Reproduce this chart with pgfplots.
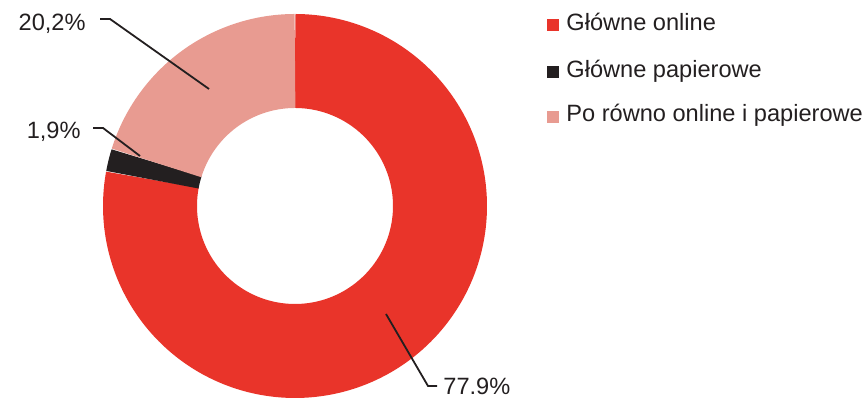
\documentclass[border=0pt]{standalone}
\usepackage{fontspec}
\setmainfont{Liberation Sans}
\usepackage{pgfplots}
\pgfplotsset{compat=1.18}
\definecolor{cRed}{HTML}{E9342A}
\definecolor{cBlack}{HTML}{231F20}
\definecolor{cPink}{HTML}{E89B91}
\begin{document}
\begin{tikzpicture}
% data (percent)
\pgfmathsetmacro{\pA}{77.9}% Glownie online
\pgfmathsetmacro{\pB}{1.9}% Glownie papierowe
\pgfmathsetmacro{\pC}{20.2}% Po rowno
\pgfmathsetmacro{\aStart}{90}
\pgfmathsetmacro{\aA}{\aStart-3.6*\pA}
\pgfmathsetmacro{\aB}{\aA-3.6*\pB}
\pgfmathsetmacro{\aC}{\aB-3.6*\pC}
\tikzset{lbl/.style={inner sep=0pt, text=cBlack, font=\fontsize{11.8}{14}\selectfont}}
\begin{axis}[scale only axis, width=432pt, height=199.5pt,
  xmin=0, xmax=864, ymin=0, ymax=399, hide axis, clip=false]
\coordinate (SW) at (axis cs:0,0);
\coordinate (NE) at (axis cs:864,399);
\addplot[cRed, line width=47pt, domain=\aA:\aStart, samples=240, variable=\t]
  ({295+145*cos(\t)},{193+145*sin(\t)});
\addplot[cBlack, line width=47pt, domain=\aB:\aA, samples=10, variable=\t]
  ({295+145*cos(\t)},{193+145*sin(\t)});
\addplot[cPink, line width=47pt, domain=\aC:\aB, samples=80, variable=\t]
  ({295+145*cos(\t)},{193+145*sin(\t)});
% leader lines
\addplot[cBlack, line width=0.9pt] coordinates {(100,380) (110,380) (209,310)};
\addplot[cBlack, line width=0.9pt] coordinates {(93,271) (103,271) (140,243)};
\addplot[cBlack, line width=0.9pt] coordinates {(386,85) (428,13) (437,13)};
% labels
\node[lbl, anchor=base east] at (axis cs:86,368) {20,2\%};
\node[lbl, anchor=base east] at (axis cs:81,260) {1,9\%};
\node[lbl, anchor=base west] at (axis cs:443,4) {77.9\%};
% legend
\addplot[only marks, mark=square*, mark size=2.75pt, cRed] coordinates {(552.5,374)};
\addplot[only marks, mark=square*, mark size=2.75pt, cBlack] coordinates {(552.5,327)};
\addplot[only marks, mark=square*, mark size=2.75pt, cPink] coordinates {(552.5,282)};
\node[lbl, anchor=base west] at (axis cs:566,368) {Główne online};
\node[lbl, anchor=base west] at (axis cs:566,321) {Główne papierowe};
\node[lbl, anchor=base west] at (axis cs:566,277) {Po równo online i papierowe};
\end{axis}
\pgfresetboundingbox
\path[use as bounding box] (SW) rectangle (NE);
\end{tikzpicture}
\end{document}
